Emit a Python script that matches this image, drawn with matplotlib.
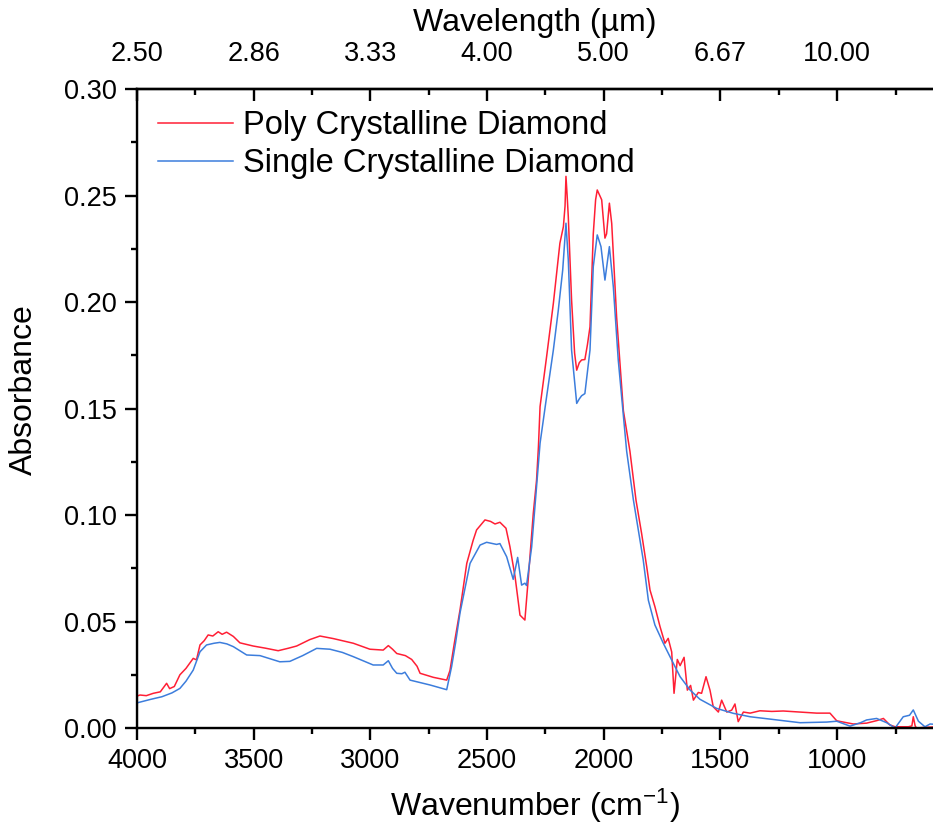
import matplotlib
matplotlib.use("Agg")
import matplotlib.pyplot as plt
from matplotlib.ticker import MultipleLocator, FixedLocator

plt.rcParams['font.family'] = ['Liberation Sans', 'DejaVu Sans']
plt.rcParams['mathtext.fontset'] = 'custom'
plt.rcParams['mathtext.rm'] = 'Liberation Sans'
plt.rcParams['mathtext.default'] = 'regular'

# ---------------- data ----------------
poly_wn = [4000, 3987, 3960, 3930, 3900, 3873, 3860, 3840, 3816, 3790, 3759, 3745, 3730, 3712,
           3695, 3675, 3652, 3635, 3616, 3587, 3559, 3502, 3450, 3395, 3350, 3316, 3260, 3216,
           3159, 3120, 3073, 3002, 2945, 2923, 2905, 2887, 2850, 2823, 2800, 2787, 2730, 2673,
           2659, 2640, 2616, 2587, 2560, 2545, 2509, 2485, 2466, 2445, 2419, 2402, 2380, 2359,
           2345, 2338, 2324, 2302, 2288, 2280, 2273, 2245, 2216, 2188, 2173, 2166, 2162, 2157,
           2152, 2138, 2125, 2116, 2105, 2095, 2081, 2070, 2059, 2045, 2035, 2028, 2009, 1995,
           1988, 1976, 1966, 1945, 1916, 1888, 1862, 1838, 1816, 1802, 1781, 1759, 1738, 1724,
           1709, 1699, 1685, 1673, 1656, 1642, 1628, 1616, 1595, 1581, 1562, 1545, 1531, 1509,
           1495, 1473, 1452, 1438, 1424, 1402, 1373, 1331, 1280, 1231, 1159, 1088, 1031, 1002,
           960, 931, 874, 830, 802, 775, 752, 695, 680, 674, 666, 660, 630, 590]
poly_abs = [0.0150, 0.0155, 0.0152, 0.0163, 0.0170, 0.0210, 0.0185, 0.0195, 0.0250, 0.0280,
            0.0327, 0.0320, 0.0390, 0.0410, 0.0437, 0.0432, 0.0452, 0.0440, 0.0450, 0.0430,
            0.0400, 0.0385, 0.0375, 0.0363, 0.0375, 0.0385, 0.0415, 0.0432, 0.0420, 0.0410,
            0.0398, 0.0370, 0.0366, 0.0387, 0.0370, 0.0350, 0.0340, 0.0322, 0.0290, 0.0257,
            0.0238, 0.0225, 0.0270, 0.0400, 0.0554, 0.0773, 0.0880, 0.0930, 0.0977, 0.0970,
            0.0958, 0.0966, 0.0938, 0.0851, 0.0710, 0.0530, 0.0515, 0.0507, 0.0695, 0.1008,
            0.1164, 0.1320, 0.1509, 0.1743, 0.1994, 0.2276, 0.2354, 0.2450, 0.2590, 0.2500,
            0.2400, 0.2010, 0.1760, 0.1680, 0.1715, 0.1728, 0.1730, 0.1800, 0.1884, 0.2320,
            0.2480, 0.2526, 0.2480, 0.2300, 0.2320, 0.2464, 0.2369, 0.1930, 0.1490, 0.1300,
            0.1070, 0.0914, 0.0757, 0.0648, 0.0570, 0.0476, 0.0398, 0.0421, 0.0357, 0.0163,
            0.0322, 0.0293, 0.0332, 0.0178, 0.0200, 0.0131, 0.0167, 0.0163, 0.0241, 0.0178,
            0.0100, 0.0075, 0.0131, 0.0075, 0.0084, 0.0113, 0.0030, 0.0075, 0.0070, 0.0081,
            0.0078, 0.0080, 0.0075, 0.0070, 0.0070, 0.0034, 0.0025, 0.0019, 0.0023, 0.0035,
            0.0045, 0.0015, 0.0006, 0.0006, 0.0010, 0.0053, 0.0010, 0.0000, 0.0003, 0.0005]

single_wn = [4000, 3993, 3940, 3893, 3850, 3816, 3790, 3759, 3730, 3702, 3670, 3645, 3615, 3587,
             3530, 3473, 3388, 3345, 3290, 3230, 3173, 3120, 3073, 2988, 2945, 2923, 2905, 2887,
             2865, 2852, 2830, 2744, 2673, 2652, 2635, 2616, 2573, 2530, 2502, 2459, 2445, 2416,
             2388, 2369, 2352, 2338, 2331, 2309, 2288, 2273, 2245, 2216, 2195, 2176, 2162, 2152,
             2138, 2116, 2105, 2095, 2081, 2059, 2045, 2028, 2012, 1995, 1976, 1959, 1938, 1902,
             1873, 1831, 1809, 1781, 1745, 1709, 1673, 1630, 1588, 1516, 1445, 1373, 1273, 1159,
             1045, 1002, 945, 900, 874, 831, 788, 752, 717, 690, 674, 652, 624, 602, 590]
single_abs = [0.0118, 0.0120, 0.0135, 0.0147, 0.0165, 0.0186, 0.0220, 0.0272, 0.0358, 0.0390,
              0.0398, 0.0402, 0.0395, 0.0382, 0.0343, 0.0340, 0.0311, 0.0313, 0.0340, 0.0374,
              0.0370, 0.0355, 0.0335, 0.0296, 0.0296, 0.0316, 0.0280, 0.0257, 0.0255, 0.0262,
              0.0225, 0.0202, 0.0180, 0.0288, 0.0400, 0.0540, 0.0773, 0.0859, 0.0872, 0.0862,
              0.0866, 0.0804, 0.0698, 0.0801, 0.0671, 0.0680, 0.0669, 0.0850, 0.1133, 0.1337,
              0.1555, 0.1775, 0.1960, 0.2150, 0.2370, 0.2197, 0.1775, 0.1524, 0.1545, 0.1560,
              0.1570, 0.1775, 0.2166, 0.2315, 0.2260, 0.2103, 0.2260, 0.2070, 0.1728, 0.1300,
              0.1070, 0.0789, 0.0600, 0.0484, 0.0398, 0.0319, 0.0241, 0.0178, 0.0135, 0.0092,
              0.0069, 0.0053, 0.0040, 0.0025, 0.0028, 0.0032, 0.0009, 0.0025, 0.0038, 0.0045,
              0.0025, 0.0000, 0.0053, 0.0060, 0.0085, 0.0032, 0.0006, 0.0019, 0.0018]

series_labels = ["Poly Crystalline Diamond", "Single Crystalline Diamond"]
top_tick_wn = [4000, 3500, 3000, 2500, 2000, 1500, 1000]
top_tick_labels = ["%.2f" % (10000.0 / w) for w in top_tick_wn]

# ---------------- figure ----------------
fig = plt.figure(figsize=(9.33, 8.35), dpi=100)
ax = fig.add_axes([0.1468, 0.1281, 0.8532, 0.7653])

red = '#FF1F35'
blue = '#3C7DDC'
ax.plot(poly_wn, poly_abs, color=red, lw=1.1, label=series_labels[0])
ax.plot(single_wn, single_abs, color=blue, lw=1.1, label=series_labels[1])

ax.set_xlim(4000, 589.5)
ax.set_ylim(0, 0.30)

ax.xaxis.set_major_locator(MultipleLocator(500))
ax.xaxis.set_minor_locator(MultipleLocator(250))
ax.yaxis.set_major_locator(MultipleLocator(0.05))
ax.yaxis.set_minor_locator(MultipleLocator(0.025))
ax.yaxis.set_major_formatter(plt.FuncFormatter(lambda v, p: "%.2f" % v))

for s in ['left', 'bottom', 'top']:
    ax.spines[s].set_linewidth(1.7)
ax.spines['right'].set_visible(False)

ax.tick_params(axis='both', which='major', direction='out', length=8.5, width=1.7,
               labelsize=19.5, pad=6)
ax.tick_params(axis='both', which='minor', direction='out', length=4.5, width=1.7)
ax.tick_params(top=False, right=False, which='both')

ax.set_xlabel("Wavenumber (cm$^{-1}$)", fontsize=23, labelpad=9)
ax.set_ylabel("Absorbance", fontsize=23)
ax.yaxis.set_label_coords(-0.123, 0.53)

# top axis
ax2 = ax.twiny()
ax2.set_xlim(ax.get_xlim())
ax2.spines['right'].set_visible(False)
ax2.spines['top'].set_linewidth(1.7)
ax2.xaxis.set_major_locator(FixedLocator(top_tick_wn))
ax2.set_xticklabels(top_tick_labels)
ax2.xaxis.set_minor_locator(MultipleLocator(250))
ax2.tick_params(axis='x', which='major', direction='in', length=8.5, width=1.7,
                labelsize=19.5, pad=16)
ax2.tick_params(axis='x', which='minor', direction='in', length=4.5, width=1.7)
ax2.set_xlabel("Wavelength (µm)", fontsize=23, labelpad=7)

leg = ax.legend(loc='upper left', bbox_to_anchor=(0.0, 1.0), frameon=False,
                fontsize=23.5, handlelength=2.3, handletextpad=0.3,
                labelspacing=0.22, borderaxespad=0.55, borderpad=0.1)

fig.savefig("out.png", dpi=100)
